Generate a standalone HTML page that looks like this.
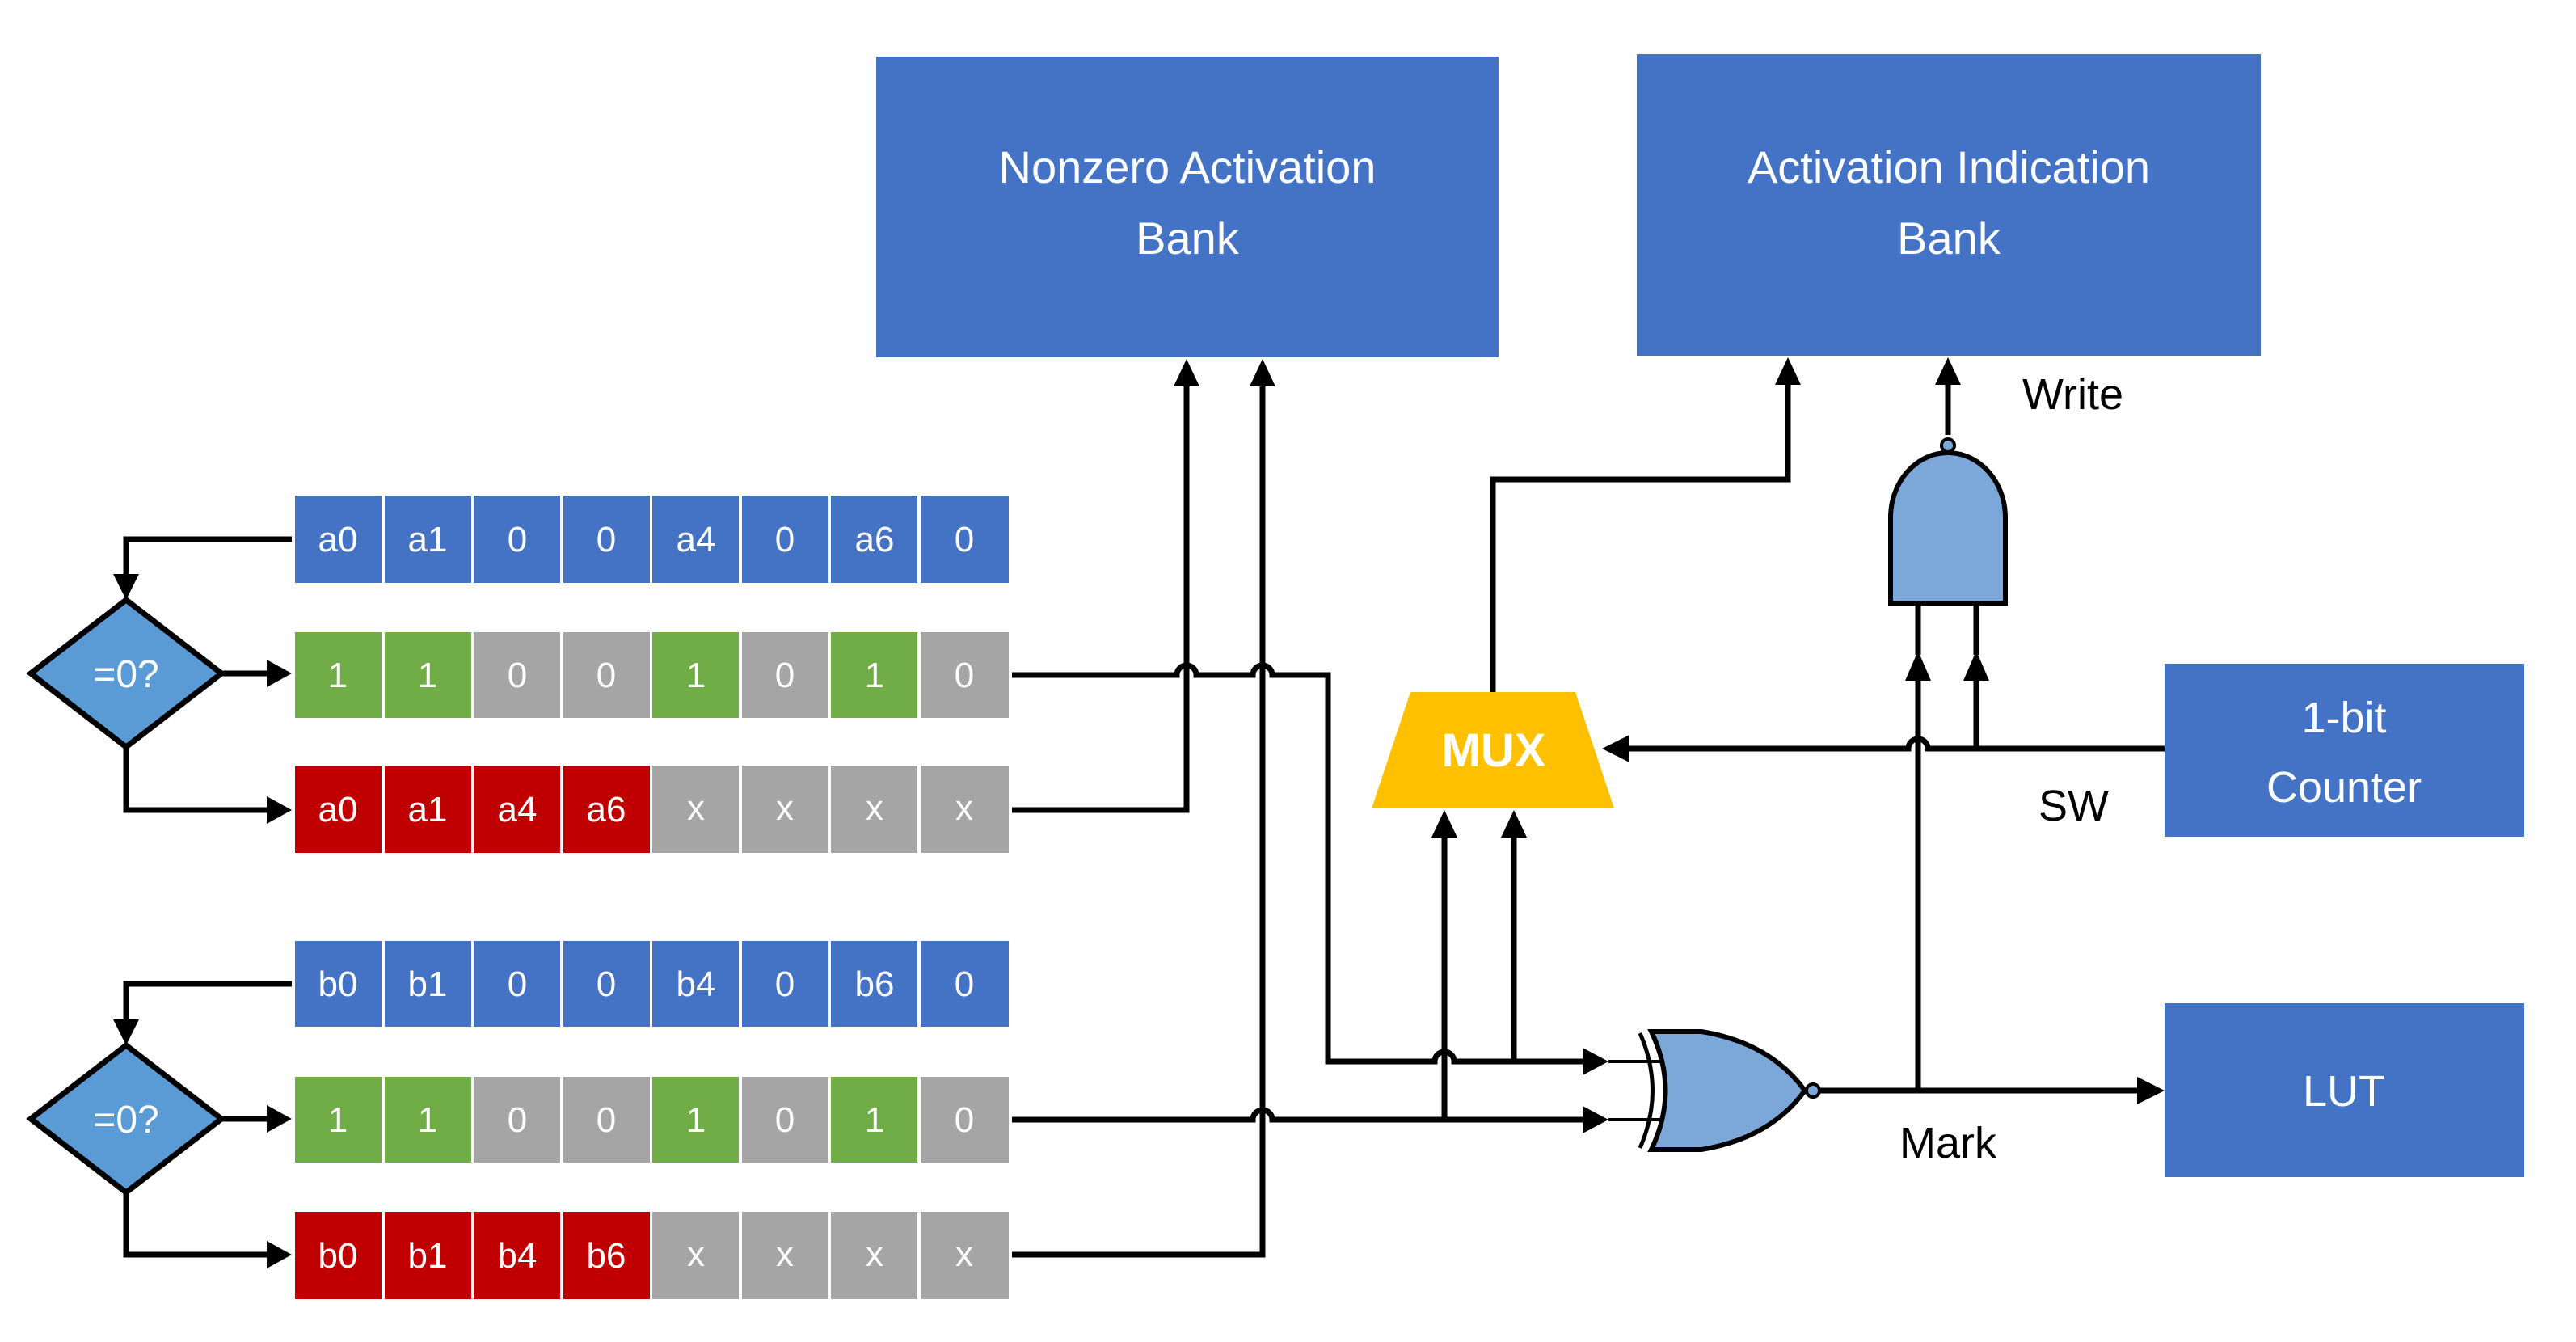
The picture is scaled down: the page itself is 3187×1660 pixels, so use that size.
<!DOCTYPE html>
<html><head><meta charset="utf-8"><style>
body{margin:0;background:#fff}
svg{display:block}
text{font-family:"Liberation Sans",sans-serif}
</style></head><body>
<svg width="3187" height="1660" viewBox="0 0 3187 1660" xmlns="http://www.w3.org/2000/svg">
<defs>
<marker id="ah" markerWidth="8" markerHeight="8" refX="7" refY="4" orient="auto" markerUnits="userSpaceOnUse" viewBox="0 0 8 8"></marker>
</defs>
<g id="cells" font-size="44" fill="#fff" text-anchor="middle">
<!-- row a -->
<g>
<rect x="365" y="613" width="107" height="108" fill="#4472C4"/><rect x="476" y="613" width="107" height="108" fill="#4472C4"/><rect x="586" y="613" width="107" height="108" fill="#4472C4"/><rect x="697" y="613" width="107" height="108" fill="#4472C4"/><rect x="807" y="613" width="107" height="108" fill="#4472C4"/><rect x="918" y="613" width="107" height="108" fill="#4472C4"/><rect x="1028" y="613" width="107" height="108" fill="#4472C4"/><rect x="1139" y="613" width="109" height="108" fill="#4472C4"/>
<text x="418" y="682">a0</text><text x="529" y="682">a1</text><text x="640" y="682">0</text><text x="750" y="682">0</text><text x="861" y="682">a4</text><text x="971" y="682">0</text><text x="1082" y="682">a6</text><text x="1193" y="682">0</text>
</g>
<g>
<rect x="365" y="782" width="107" height="106" fill="#70AD47"/><rect x="476" y="782" width="107" height="106" fill="#70AD47"/><rect x="586" y="782" width="107" height="106" fill="#A5A5A5"/><rect x="697" y="782" width="107" height="106" fill="#A5A5A5"/><rect x="807" y="782" width="107" height="106" fill="#70AD47"/><rect x="918" y="782" width="107" height="106" fill="#A5A5A5"/><rect x="1028" y="782" width="107" height="106" fill="#70AD47"/><rect x="1139" y="782" width="109" height="106" fill="#A5A5A5"/>
<text x="418" y="850">1</text><text x="529" y="850">1</text><text x="640" y="850">0</text><text x="750" y="850">0</text><text x="861" y="850">1</text><text x="971" y="850">0</text><text x="1082" y="850">1</text><text x="1193" y="850">0</text>
</g>
<g>
<rect x="365" y="947" width="107" height="108" fill="#C00000"/><rect x="476" y="947" width="107" height="108" fill="#C00000"/><rect x="586" y="947" width="107" height="108" fill="#C00000"/><rect x="697" y="947" width="107" height="108" fill="#C00000"/><rect x="807" y="947" width="107" height="108" fill="#A5A5A5"/><rect x="918" y="947" width="107" height="108" fill="#A5A5A5"/><rect x="1028" y="947" width="107" height="108" fill="#A5A5A5"/><rect x="1139" y="947" width="109" height="108" fill="#A5A5A5"/>
<text x="418" y="1016">a0</text><text x="529" y="1016">a1</text><text x="640" y="1016">a4</text><text x="750" y="1016">a6</text><text x="861" y="1014">x</text><text x="971" y="1014">x</text><text x="1082" y="1014">x</text><text x="1193" y="1014">x</text>
</g>
<g>
<rect x="365" y="1164" width="107" height="106" fill="#4472C4"/><rect x="476" y="1164" width="107" height="106" fill="#4472C4"/><rect x="586" y="1164" width="107" height="106" fill="#4472C4"/><rect x="697" y="1164" width="107" height="106" fill="#4472C4"/><rect x="807" y="1164" width="107" height="106" fill="#4472C4"/><rect x="918" y="1164" width="107" height="106" fill="#4472C4"/><rect x="1028" y="1164" width="107" height="106" fill="#4472C4"/><rect x="1139" y="1164" width="109" height="106" fill="#4472C4"/>
<text x="418" y="1232">b0</text><text x="529" y="1232">b1</text><text x="640" y="1232">0</text><text x="750" y="1232">0</text><text x="861" y="1232">b4</text><text x="971" y="1232">0</text><text x="1082" y="1232">b6</text><text x="1193" y="1232">0</text>
</g>
<g>
<rect x="365" y="1332" width="107" height="106" fill="#70AD47"/><rect x="476" y="1332" width="107" height="106" fill="#70AD47"/><rect x="586" y="1332" width="107" height="106" fill="#A5A5A5"/><rect x="697" y="1332" width="107" height="106" fill="#A5A5A5"/><rect x="807" y="1332" width="107" height="106" fill="#70AD47"/><rect x="918" y="1332" width="107" height="106" fill="#A5A5A5"/><rect x="1028" y="1332" width="107" height="106" fill="#70AD47"/><rect x="1139" y="1332" width="109" height="106" fill="#A5A5A5"/>
<text x="418" y="1400">1</text><text x="529" y="1400">1</text><text x="640" y="1400">0</text><text x="750" y="1400">0</text><text x="861" y="1400">1</text><text x="971" y="1400">0</text><text x="1082" y="1400">1</text><text x="1193" y="1400">0</text>
</g>
<g>
<rect x="365" y="1499" width="107" height="108" fill="#C00000"/><rect x="476" y="1499" width="107" height="108" fill="#C00000"/><rect x="586" y="1499" width="107" height="108" fill="#C00000"/><rect x="697" y="1499" width="107" height="108" fill="#C00000"/><rect x="807" y="1499" width="107" height="108" fill="#A5A5A5"/><rect x="918" y="1499" width="107" height="108" fill="#A5A5A5"/><rect x="1028" y="1499" width="107" height="108" fill="#A5A5A5"/><rect x="1139" y="1499" width="109" height="108" fill="#A5A5A5"/>
<text x="418" y="1568">b0</text><text x="529" y="1568">b1</text><text x="640" y="1568">b4</text><text x="750" y="1568">b6</text><text x="861" y="1566">x</text><text x="971" y="1566">x</text><text x="1082" y="1566">x</text><text x="1193" y="1566">x</text>
</g>
</g>

<!-- diamonds -->
<polygon points="156,742 274,833 156,924 38,833" fill="#5B9BD5" stroke="#000" stroke-width="7"/>
<text x="156" y="850" font-size="48" fill="#fff" text-anchor="middle">=0?</text>
<polygon points="156,1293 274,1384 156,1475 38,1384" fill="#5B9BD5" stroke="#000" stroke-width="7"/>
<text x="156" y="1401" font-size="48" fill="#fff" text-anchor="middle">=0?</text>

<!-- boxes -->
<rect x="1084" y="70" width="770" height="372" fill="#4472C4"/>
<text x="1469" y="226" font-size="56" fill="#fff" text-anchor="middle">Nonzero Activation</text>
<text x="1469" y="314" font-size="56" fill="#fff" text-anchor="middle">Bank</text>
<rect x="2025" y="67" width="772" height="373" fill="#4472C4"/>
<text x="2411" y="226" font-size="56" fill="#fff" text-anchor="middle">Activation  Indication</text>
<text x="2411" y="314" font-size="56" fill="#fff" text-anchor="middle">Bank</text>
<rect x="2678" y="821" width="445" height="214" fill="#4472C4"/>
<text x="2900" y="906" font-size="54" fill="#fff" text-anchor="middle">1-bit</text>
<text x="2900" y="992" font-size="54" fill="#fff" text-anchor="middle">Counter</text>
<rect x="2678" y="1241" width="445" height="215" fill="#4472C4"/>
<text x="2900" y="1368" font-size="54" fill="#fff" text-anchor="middle">LUT</text>

<!-- MUX -->
<polygon points="1745,856 1949,856 1997,1000 1697,1000" fill="#FFC000"/>
<text x="1848" y="948" font-size="58" font-weight="bold" fill="#fff" text-anchor="middle">MUX</text>

<g fill="none" stroke="#000" stroke-width="7">
<!-- left feedback lines -->
<polyline points="361,667 156,667 156,712"/>
<line x1="274" y1="833" x2="332" y2="833"/>
<polyline points="156,924 156,1002 332,1002"/>
<polyline points="361,1217 156,1217 156,1263"/>
<line x1="274" y1="1384" x2="332" y2="1384"/>
<polyline points="156,1475 156,1552 332,1552"/>
<!-- ones a line with hops -->
<path d="M1252,835 H1456 a12,12 0 0 1 24,0 H1550 a12,12 0 0 1 24,0 H1643 V1313 H1775 a12,12 0 0 1 24,0 H1962"/>
<!-- red a -->
<polyline points="1252,1002 1468,1002 1468,475"/>
<!-- vertical 1562 -->
<polyline points="1252,1552 1562,1552 1562,475"/>
<!-- ones b -->
<path d="M1252,1385 H1550 a12,12 0 0 1 24,0 H1962"/>
<!-- mux inputs -->
<line x1="1787" y1="1385" x2="1787" y2="1030"/>
<line x1="1873" y1="1313" x2="1873" y2="1030"/>
<!-- mux output -->
<polyline points="1847,856 1847,593 2212,593 2212,472"/>
<!-- AND out -->
<line x1="2410" y1="538" x2="2410" y2="472"/>
<!-- SW line -->
<path d="M2678,926 H2385 a12,12 0 0 0 -24,0 H2012"/>
<!-- AND inputs -->
<polyline points="2373,1349 2373,926"/>
<line x1="2373" y1="926" x2="2373" y2="840"/>
<line x1="2445" y1="926" x2="2445" y2="840"/>
<line x1="2373" y1="810" x2="2373" y2="746"/>
<line x1="2445" y1="810" x2="2445" y2="746"/>
<!-- xor output -->
<line x1="2251" y1="1349" x2="2648" y2="1349"/>
</g>
<g stroke="#000" stroke-width="4" fill="none">
<line x1="1990" y1="1313" x2="2062" y2="1313"/>
<line x1="1990" y1="1385" x2="2062" y2="1385"/>
</g>

<!-- arrowheads -->
<g fill="#000">
<polygon points="156,742 140,710 172,710"/>
<polygon points="361,833 330,816 330,850"/>
<polygon points="361,1002 330,985 330,1019"/>
<polygon points="156,1293 140,1261 172,1261"/>
<polygon points="361,1384 330,1367 330,1401"/>
<polygon points="361,1552 330,1535 330,1569"/>
<polygon points="1468,444 1452,478 1484,478"/>
<polygon points="1562,444 1546,478 1578,478"/>
<polygon points="2212,442 2196,476 2228,476"/>
<polygon points="2410,442 2394,476 2426,476"/>
<polygon points="1787,1002 1771,1036 1803,1036"/>
<polygon points="1873,1002 1857,1036 1889,1036"/>
<polygon points="1990,1313 1958,1296 1958,1330"/>
<polygon points="1990,1385 1958,1368 1958,1402"/>
<polygon points="1982,926 2016,909 2016,943"/>
<polygon points="2373,805 2357,842 2389,842"/>
<polygon points="2445,805 2429,842 2461,842"/>
<polygon points="2678,1349 2644,1332 2644,1366"/>
</g>

<!-- AND gate -->
<path d="M2339,746 V640 A71,80 0 0 1 2481,640 V746 Z" fill="#7BA7D9" stroke="#000" stroke-width="6"/>
<circle cx="2410" cy="551" r="8" fill="#7BA7D9" stroke="#000" stroke-width="4"/>

<!-- XOR gate -->
<path d="M2029,1278 Q2060,1349 2029,1420" fill="none" stroke="#000" stroke-width="5"/>
<path d="M2043,1276 H2105 Q2190,1290 2233,1349 Q2190,1408 2105,1422 H2043 Q2078,1349 2043,1276 Z" fill="#7BA7D9" stroke="#000" stroke-width="6"/>
<circle cx="2243" cy="1349" r="8" fill="#7BA7D9" stroke="#000" stroke-width="4"/>

<!-- labels -->
<text x="2502" y="506" font-size="54" fill="#000">Write</text>
<text x="2522" y="1015" font-size="54" fill="#000">SW</text>
<text x="2350" y="1432" font-size="54" fill="#000">Mark</text>
</svg>
</body></html>
